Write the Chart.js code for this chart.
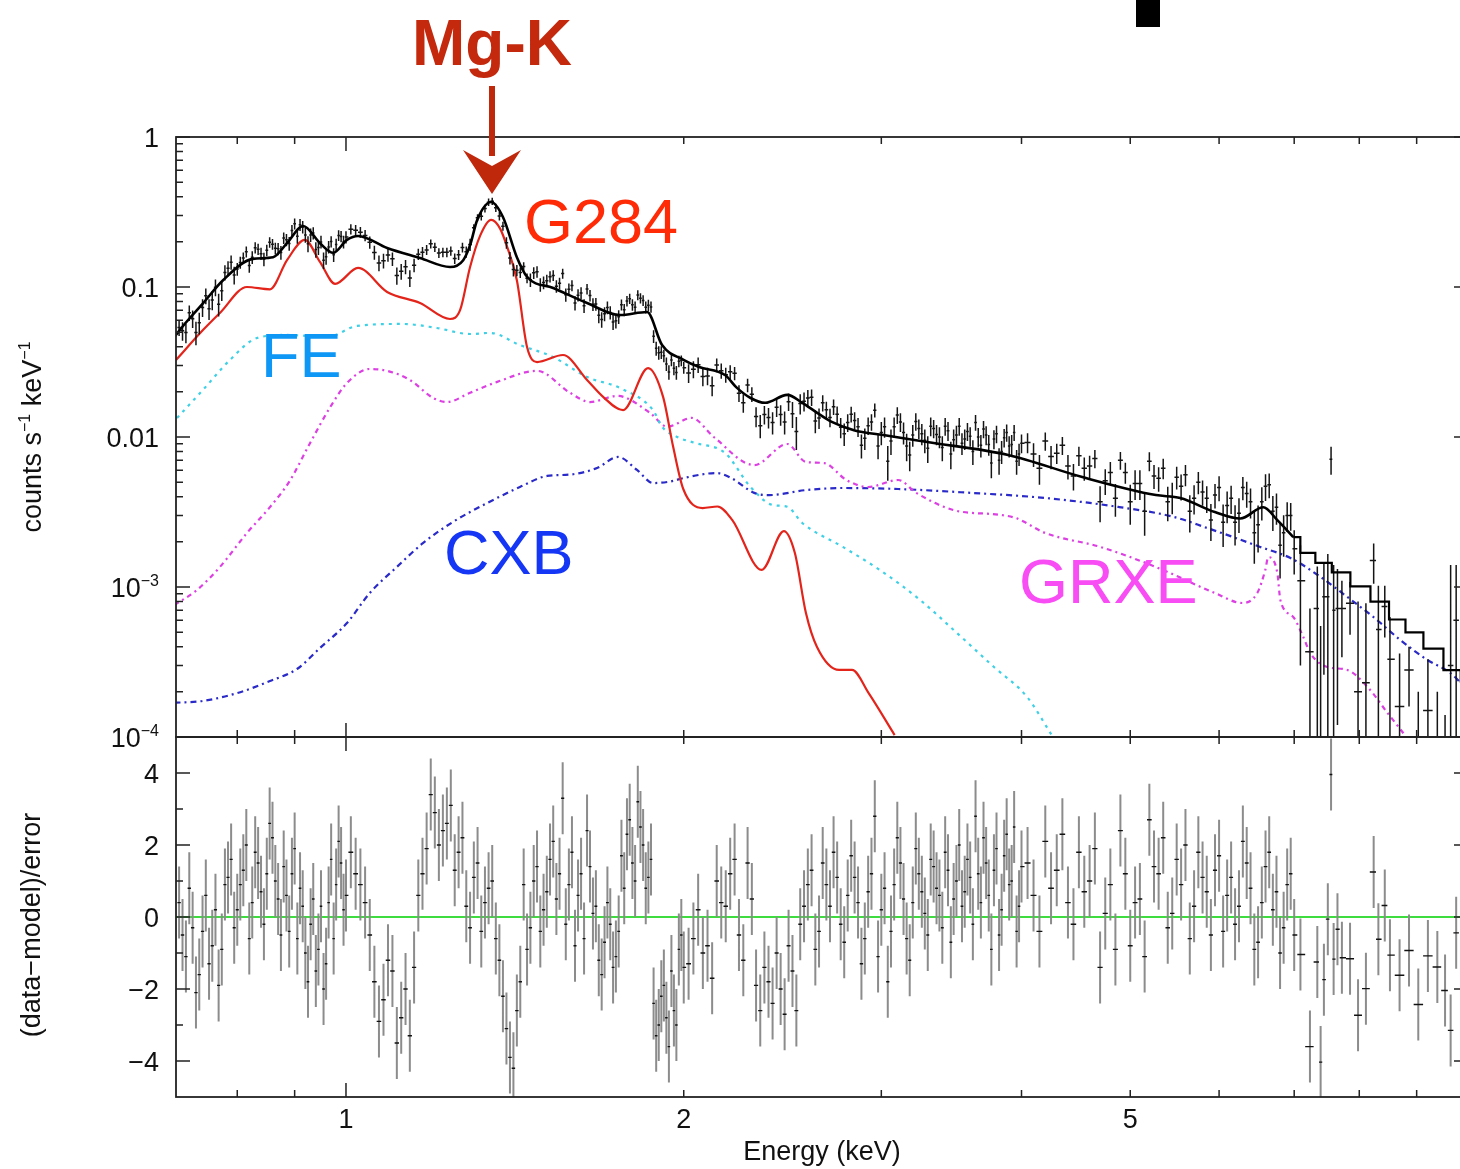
<!DOCTYPE html>
<html>
<head>
<meta charset="utf-8">
<script src="https://cdn.jsdelivr.net/npm/chart.js@4.4.1/dist/chart.umd.min.js"></script>
<style>
  html, body { margin: 0; padding: 0; background: #fff; width: 1460px; height: 1169px; overflow: hidden; }
  canvas { position: absolute; left: 0; top: 0; }
  #blk { position: absolute; left: 1136px; top: 0; width: 24px; height: 27px; background: #000; }
</style>
</head>
<body>
<canvas id="spec" width="1480" height="1169"></canvas>
<canvas id="resid" width="1480" height="1169"></canvas>
<div id="blk"></div>
<script>
// binned spectrum (keV, counts/s/keV) + residuals in sigma, first set of bins
const energy = [
  0.71,0.72,0.73,0.74,0.75,0.76,0.77,0.78,0.79,0.80,0.81,0.82,0.83,0.84,0.85,0.86,0.87,0.88,0.89,0.90,
  0.91,0.92,0.93,0.94,0.95,0.96,0.97,0.98,0.99,1.00,
  1.02,1.04,1.06,1.08,1.10,1.12,1.14,1.16,1.18,1.20,1.22,1.24,1.26,1.28,1.30,1.32,1.34,1.36,1.38,1.40,
  1.42,1.44,1.46,1.48,1.50,1.52,1.54,1.56,1.58,1.60,1.62,1.64,1.66,1.68,1.70,1.72,1.74,1.76,1.78,1.80,
  1.82,1.84,1.86,1.88,1.90,1.92,1.94,1.96,1.98,2.00,
  2.04,2.08,2.12,2.16,2.20,2.24,2.28,2.32,2.36,2.40,2.44,2.48,2.52,2.56,2.60,2.64,2.68,2.72,2.76,2.80,
  2.84,2.88,2.92,2.96,3.00,3.04,3.08,3.12,3.16,3.20,3.24,3.28,3.32,3.36,3.40,3.44,3.48,3.52,3.56,3.60,
  3.64,3.68,3.72,3.76,3.80,3.84,3.88,3.92,3.96,4.00,
  4.1,4.2,4.3,4.4,4.5,4.6,4.7,4.8,4.9,5.0,5.1,5.2,5.3,5.4,5.5,5.6,5.7,5.8,5.9,6.0,
  6.1,6.2,6.3,6.4,6.5,6.6,6.7,6.8,6.9,7.0,
  7.09,7.23,7.34,7.39,7.44,7.50,7.55,7.59,7.65,7.72,7.85,7.98,8.11,8.24,8.32,8.43,8.52,8.69,8.86,9.03,
  9.21,9.39,9.54,9.65,9.76
];
const rate = [
  .0537,.0497,.0615,.0578,.0873,.0820,.0768,.1251,.1462,.1316,.1559,.1391,.1829,.1669,.1758,.1928,.1796,.2120,.1949,.2642,
  .2603,.2223,.2225,.1777,.1998,.1592,.2007,.1918,.2174,.2152,
  .2393,.2207,.1701,.1499,.1540,.1272,.1146,.1655,.1768,.1841,.1702,.1739,.1638,.1715,.2484,.2957,.3678,.3374,.2543,.1563,
  .1292,.1371,.1116,.1265,.1071,.1172,.1013,.1230,.0967,.0781,.0913,.0970,.0767,.0647,.0662,.0676,.0595,.0761,.0806,.0761,
  .0884,.0814,.0755,.0469,.0365,.0348,.0271,.0287,.0320,.0290,
  .0283,.0253,.0220,.0277,.0272,.0196,.0222,.0137,.0141,.0125,.0141,.0172,.0109,.0173,.0184,.0134,.0152,.0159,.0116,.0125,
  .0129,.0088,.0119,.0151,.0107,.0069,.0117,.0126,.0087,.0103,.0114,.0095,.0118,.0104,.0085,.0110,.0096,.0118,.0097,.0101,
  .0125,.0088,.0103,.0067,.0105,.0080,.0107,.0089,.0069,.0091,
  .0077,.0094,.0078,.0064,.0075,.0064,.0037,.0058,.0070,.0037,.0049,.0069,.0053,.0037,.0054,.0056,.0039,.0043,.0028,.0046,
  .0035,.0027,.0046,.0037,.0026,.0047,.0032,.0019,.0030,.0018,
  .0011,.00037,.00072,.00005,.00086,.00086,.0071,.0007,.00072,.00072,.00078,.0002,.00023,.0015,.00052,.00074,.00033,.00016,.00028,.00005,
  .00015,.00005,.00002,.0003,.0006
];
const rateErr = [
  .0066,.0075,.0083,.0095,.0105,.0119,.0133,.0146,.0157,.0129,.0138,.0148,.0155,.0156,.0157,.0158,.0171,.0186,.0203,.0222,
  .0241,.0247,.0227,.0209,.0194,.0183,.0173,.0176,.0189,.0203,
  .0194,.0192,.0183,.0170,.0160,.0153,.0147,.0141,.0136,.0131,.0126,.0122,.0127,.0150,.0140,.0182,.0211,.0210,.0176,.0151,
  .0111,.0090,.0115,.0111,.0105,.0101,.0097,.0093,.0089,.0085,.0082,.0078,.0076,.0074,.0071,.0069,.0067,.0065,.0066,.0066,
  .0067,.0068,.0068,.0046,.0038,.0033,.0030,.0029,.0028,.0026,
  .0037,.0035,.0033,.0032,.0029,.0025,.0023,.0021,.0020,.0021,.0022,.0023,.0027,.0025,.0023,.0021,.0020,.0019,.0018,.0017,
  .0017,.0016,.0016,.0016,.0019,.0018,.0018,.0018,.0018,.0017,.0017,.0017,.0017,.0016,.0016,.0016,.0016,.0016,.0015,.0015,
  .0015,.0015,.0015,.0014,.0014,.0014,.0014,.0014,.0013,.0013,
  .0014,.0013,.0012,.0012,.0011,.0011,.0010,.0010,.00094,.0011,.0011,.0010,.00098,.00096,.00094,.00091,.00086,.00082,.00077,.00087,
  .00084,.00081,.00081,.00084,.00090,.00095,.00084,.00076,.00067,.00059,
  .0008,.00035,.00065,.0005,.0006,.0008,.0015,.0007,.0006,.00038,.0003,.0006,.00055,.00045,.0005,.00028,.0003,.0002,.00012,.00015,
  .00018,.00015,.00012,.0011,.0008
];
const resid = [
  0.4,-1.1,-0.3,-1.6,0.6,-0.8,-1.9,0.9,1.6,0.2,1.3,-0.6,1.8,0.7,1.2,2.2,0.5,1.4,-0.4,1.9,
  0.8,-1.0,-0.2,-1.5,0.3,-1.3,1.6,0.9,1.5,0.6,
  1.2,0.4,-1.8,-2.3,-1.5,-2.8,-3.3,0.6,1.9,2.9,2.4,3.1,1.8,0.3,1.1,-0.4,0.8,-0.6,-2.2,-3.9,
  -2.6,0.9,-0.3,1.4,0.2,1.6,0.5,3.3,0.9,-0.8,1.2,2.4,0.1,-1.2,-0.7,-0.2,-1.1,1.7,2.3,1.5,
  3.2,2.0,1.1,-2.4,-3.0,-1.9,-3.6,-2.6,-0.9,-1.4,
  -0.6,-1.0,-1.7,0.4,1.2,-0.5,1.5,-1.9,-1.4,-2.4,-2.0,-0.8,-2.6,0.3,1.3,-0.4,0.9,1.8,-0.2,0.6,
  1.1,-1.3,0.7,2.8,0.2,-1.8,0.9,1.5,-0.6,0.4,1.2,0.1,1.6,0.8,-0.3,1.3,0.5,2.0,0.7,1.1,
  2.8,0.4,1.5,-0.9,1.9,0.2,2.3,1.0,-0.4,1.4,
  0.6,2.1,1.3,0.4,1.8,1.0,-1.4,0.9,2.4,-0.8,0.5,2.7,1.2,-0.3,1.6,2.0,0.3,1.1,-0.5,1.7,
  0.6,-0.2,2.1,0.8,-0.7,1.4,0.2,-1.0,0.9,-0.5,
  -1.04,-3.6,-1.25,-4.03,-1.74,-0.06,3.96,-1.17,-0.34,-1.13,-1.16,-2.73,-1.99,1.25,-0.62,0.32,-1.06,-1.62,-0.93,-2.43,
  -1.08,-1.39,-2.04,-3.15,-0.44
];

// second, interleaved set of bins
const energy2 = [
  0.715,0.725,0.735,0.745,0.755,0.765,0.775,0.785,0.795,0.805,0.815,0.825,0.835,0.845,0.855,0.865,0.875,0.885,0.895,0.905,
  0.915,0.925,0.935,0.945,0.955,0.965,0.975,0.985,0.995,
  1.01,1.03,1.05,1.07,1.09,1.11,1.13,1.15,1.17,1.19,1.21,1.23,1.25,1.27,1.29,1.31,1.33,1.35,1.37,1.39,
  1.41,1.43,1.45,1.47,1.49,1.51,1.53,1.55,1.57,1.59,1.61,1.63,1.65,1.67,1.69,1.71,1.73,1.75,1.77,1.79,
  1.81,1.83,1.85,1.87,1.89,1.91,1.93,1.95,1.97,1.99,
  2.02,2.06,2.10,2.14,2.18,2.22,2.26,2.30,2.34,2.38,2.42,2.46,2.50,2.54,2.58,2.62,2.66,2.70,2.74,2.78,
  2.82,2.86,2.90,2.94,2.98,3.02,3.06,3.10,3.14,3.18,3.22,3.26,3.30,3.34,3.38,3.42,3.46,3.50,3.54,3.58,
  3.62,3.66,3.70,3.74,3.78,3.82,3.86,3.90,3.94,3.98,
  4.05,4.15,4.25,4.35,4.45,4.55,4.65,4.75,4.85,4.95,5.05,5.15,5.25,5.35,5.45,5.55,5.65,5.75,5.85,5.95,
  6.05,6.15,6.25,6.35,6.45,6.55,6.65,6.75,6.85,6.95
];
const rate2 = [
  .0510,.0673,.0498,.0730,.0715,.0995,.0945,.1332,.1201,.1455,.1716,.1576,.1788,.1534,.1985,.1810,.1696,.2062,.2380,.2176,
  .2513,.1943,.2289,.1834,.1508,.1851,.1640,.2208,.1999,
  .2429,.2319,.1986,.1448,.1637,.1192,.1365,.1398,.1706,.1939,.1687,.1703,.1547,.1833,.1917,.2899,.3338,.3731,.2970,.1973,
  .1306,.1250,.1143,.1243,.1037,.1102,.1194,.1058,.0888,.1024,.0882,.0750,.0878,.0769,.0607,.0729,.0584,.0633,.0704,.0836,
  .0733,.0843,.0733,.0737,.0390,.0367,.0307,.0326,.0269,.0323,
  .0267,.0303,.0255,.0302,.0260,.0266,.0169,.0193,.0119,.0135,.0158,.0126,.0143,.0167,.0182,.0128,.0169,.0135,.0142,.0105,
  .0142,.0117,.0098,.0126,.0087,.0117,.0094,.0140,.0107,.0076,.0127,.0105,.0084,.0114,.0100,.0118,.0077,.0103,.0091,.0109,
  .0080,.0100,.0113,.0089,.0097,.0070,.0099,.0087,.0107,.0077,
  .0092,.0062,.0074,.0088,.0055,.0062,.0072,.0051,.0039,.0058,.0049,.0032,.0055,.0062,.0040,.0047,.0032,.0050,.0039,.0041,
  .0027,.0039,.0031,.0042,.0023,.0037,.0048,.0034,.0023,.0030
];
const rateErr2 = [
  .0071,.0079,.0089,.0100,.0112,.0126,.0139,.0151,.0163,.0134,.0143,.0152,.0156,.0157,.0158,.0165,.0179,.0195,.0213,.0232,
  .0244,.0237,.0218,.0202,.0189,.0178,.0175,.0183,.0196,
  .0188,.0193,.0187,.0176,.0165,.0157,.0150,.0144,.0139,.0134,.0129,.0124,.0125,.0138,.0177,.0160,.0196,.0211,.0192,.0176,
  .0130,.0100,.0085,.0113,.0108,.0103,.0099,.0095,.0091,.0087,.0083,.0080,.0077,.0075,.0072,.0070,.0068,.0066,.0065,.0066,
  .0067,.0067,.0068,.0064,.0042,.0036,.0032,.0030,.0028,.0027,
  .0038,.0036,.0034,.0032,.0030,.0027,.0024,.0022,.0021,.0021,.0022,.0022,.0028,.0026,.0024,.0022,.0021,.0019,.0018,.0018,
  .0017,.0017,.0016,.0016,.0016,.0018,.0018,.0018,.0018,.0017,.0017,.0017,.0017,.0016,.0016,.0016,.0016,.0016,.0015,.0015,
  .0015,.0015,.0015,.0014,.0014,.0014,.0014,.0014,.0013,.0013,
  .0014,.0014,.0013,.0012,.0011,.0011,.0010,.0010,.00096,.00093,.0011,.0010,.0010,.00097,.00095,.00092,.00089,.00084,.00079,.00076,
  .00085,.00083,.00081,.00083,.00087,.00092,.0009,.0008,.00071,.00063
];
const resid2 = [
  -0.5,0.8,-2.1,-0.4,-1.3,0.2,-0.9,1.1,-0.3,0.9,2.0,0.4,1.5,-0.2,2.6,1.0,-0.5,0.6,1.2,-0.6,
  0.3,-1.8,0.5,-0.9,-2.0,0.4,-0.6,2.1,0.2,
  1.8,0.9,-0.5,-2.9,-1.2,-3.5,-2.0,-1.4,1.2,3.4,2.0,2.6,1.3,2.2,-0.3,1.5,0.4,1.0,-1.2,-3.1,
  -4.2,-1.8,-0.9,1.0,-0.4,0.7,2.1,1.2,-0.2,1.8,0.6,-0.6,1.4,0.3,-1.6,0.4,-1.4,-0.4,0.8,2.7,
  1.0,2.5,0.8,1.6,-3.3,-2.2,-2.8,-1.5,-3.0,-0.5,
  -1.3,0.2,-0.8,1.0,0.3,1.6,-1.2,0.5,-2.6,-1.8,-1.0,-2.7,-1.5,-0.2,0.9,-0.9,1.5,0.3,1.1,-0.7,
  1.7,0.4,-0.6,1.2,-1.1,0.8,-0.4,2.2,0.5,-1.2,1.9,0.7,-0.5,1.4,0.6,1.8,-0.7,1.0,0.3,1.6,
  -0.2,1.2,2.2,0.6,1.3,-0.5,1.7,0.9,2.5,0.3,
  1.5,-0.4,0.8,2.3,-0.2,0.7,1.9,0.1,-0.9,1.2,0.4,-1.1,1.4,2.2,0.1,0.9,-0.6,1.8,0.7,1.3,
  -0.4,1.1,0.3,1.5,-0.9,0.4,1.8,0.7,-0.3,1.2
];

// total model
const modelE = [0.703,0.72,0.746,0.777,0.826,0.861,0.886,0.916,0.948,0.974,1.002,1.025,1.088,1.164,1.238,1.272,1.290,1.309,1.347,1.380,
  1.420,1.450,1.530,1.640,1.755,1.855,1.913,2.001,2.064,2.177,2.227,2.294,2.364,2.473,2.551,2.630,2.710,2.836,3.012,3.296,
  3.892,4.531,5.270,5.540,5.948,6.268,6.570,6.762,6.987];
const modelY = [0.0464,0.058,0.0782,0.111,0.154,0.158,0.196,0.255,0.196,0.169,0.206,0.219,0.182,0.156,0.136,0.151,0.19,0.28,0.369,0.293,
  0.158,0.117,0.0985,0.0782,0.065,0.0681,0.041,0.0326,0.0293,0.0259,0.0215,0.0182,0.0169,0.0191,0.0169,0.0145,0.0126,0.0111,0.0103,0.00926,
  0.00759,0.00541,0.0041,0.00392,0.00316,0.00286,0.0034,0.00279,0.00215];
const modelTailE = [6.987,7.192,7.431,7.695,8.019,8.356,8.654,8.940,9.315,9.706,10.0];
const modelTailY = [0.00215,0.00169,0.00145,0.00125,0.00101,0.000798,0.000607,0.000499,0.000388,0.000279,0.000235];

// components
const g284E = [0.7055,0.7456,0.772,0.816,0.8555,0.886,0.919,0.948,0.978,1.025,1.088,1.164,1.238,1.264,1.290,1.317,1.347,1.372,1.392,1.420,
  1.450,1.480,1.561,1.640,1.695,1.766,1.859,1.917,1.957,1.998,2.079,2.143,2.209,2.347,2.456,2.512,2.570,2.629,2.751,2.825,2.923,3.083];
const g284Y = [0.0326,0.0516,0.0671,0.1,0.0965,0.151,0.206,0.147,0.105,0.134,0.0927,0.0782,0.0612,0.0703,0.136,0.22,0.280,0.245,0.185,0.111,
  0.0398,0.0316,0.0352,0.024,0.0185,0.0151,0.0288,0.0185,0.0086,0.0045,0.00336,0.00344,0.0028,0.0013,0.00236,0.00169,0.000671,0.000398,0.00028,0.00028,0.000196,0.000103];

const feE = [0.707,0.7456,0.788,0.833,0.886,0.962,1.023,1.124,1.205,1.290,1.344,1.429,1.530,1.640,1.755,1.878,1.913,1.973,2.048,2.177,
  2.294,2.401,2.473,2.551,2.772,2.990,3.249,3.504,3.780,4.046,4.266];
const feY = [0.0134,0.0206,0.0326,0.0457,0.0479,0.0464,0.055,0.0567,0.0533,0.0486,0.0494,0.041,0.0341,0.0251,0.0212,0.0151,0.0117,0.010,0.00912,0.00782,
  0.00464,0.00352,0.00343,0.00267,0.00185,0.0013,0.000819,0.000493,0.000293,0.000185,0.0001];

const grxeE = [0.7033,0.7365,0.772,0.816,0.8555,0.891,0.929,0.968,1.002,1.050,1.088,1.140,1.196,1.230,1.290,1.364,1.480,1.584,1.650,1.745,
  1.866,1.933,2.033,2.127,2.311,2.473,2.570,2.668,2.792,2.920,3.105,3.223,3.477,3.837,3.955,4.201,4.702,5.270,5.948,6.294,
  6.489,6.597,6.637,6.762,6.804,6.987,7.132,7.235,7.491,7.806,8.135,8.476,8.759];
const grxeY = [0.000759,0.000955,0.00136,0.00229,0.00341,0.0051,0.00912,0.0158,0.0229,0.0284,0.0276,0.024,0.0182,0.0171,0.0197,0.0233,0.0276,0.0197,0.0171,0.0188,
  0.0145,0.0117,0.0134,0.01,0.0065,0.00898,0.00681,0.0067,0.00517,0.00464,0.00517,0.00424,0.00326,0.00302,0.00288,0.00229,0.00185,0.00136,0.000912,0.000782,
  0.000912,0.0013,0.00158,0.00124,0.000819,0.000631,0.000464,0.000363,0.000293,0.00028,0.000216,0.000145,0.000106];

const cxbE = [0.7033,0.7456,0.7995,0.8555,0.9044,0.948,1.002,1.050,1.110,1.171,1.245,1.336,1.429,1.511,1.584,1.674,1.748,1.817,1.878,1.945,
  2.001,2.138,2.205,2.311,2.384,2.572,2.772,3.105,3.612,4.201,4.889,5.471,5.858,6.178,6.528,6.947,7.385,7.806,8.235,8.705,
  9.201,9.645,10.0];
const cxbY = [0.000169,0.000174,0.000196,0.000236,0.000284,0.000392,0.000575,0.000912,0.00136,0.00196,0.00271,0.00363,0.00464,0.0055,0.00562,0.00621,0.00736,0.00603,0.00493,0.00505,
  0.00533,0.00575,0.00533,0.00424,0.0041,0.00443,0.00457,0.0045,0.00424,0.00392,0.00341,0.00293,0.00247,0.00215,0.00185,0.00156,0.00117,0.000858,0.000631,0.000443,
  0.000326,0.000267,0.000204];

// axes
const X_MIN = 0.7055, X_MAX = 10;
const xMajorTicks = [1, 10];
const xMinorTicks = [0.8, 0.9, 2, 3, 4, 5, 6, 7, 8, 9];
const xTickLabels = [1, 2, 5];
const specTicks = [1, 0.1, 0.01, 0.001, 0.0001];
const specTickText = [[['1']], [['0.1']], [['0.01']], [['10'], ['\u22123', 1]], [['10'], ['\u22124', 1]]];
const residMajor = [-4, -2, 0, 2, 4];
const residMinor = [-3, -1, 1, 3];
const residTickText = ['\u22124', '\u22122', '0', '2', '4'];

const FONT = '"Liberation Sans", Arial, Helvetica, sans-serif';

function richText(ctx, parts, x, y, size, align) {
  const supSize = Math.round(size * 0.6);
  const ws = parts.map(p => {
    ctx.font = (p[1] ? supSize : size) + 'px ' + FONT;
    return ctx.measureText(p[0]).width;
  });
  const total = ws.reduce((a, b) => a + b, 0);
  let cx = align === 'right' ? x - total : align === 'center' ? x - total / 2 : x;
  ctx.textAlign = 'left';
  ctx.textBaseline = 'alphabetic';
  parts.forEach((p, i) => {
    ctx.font = (p[1] ? supSize : size) + 'px ' + FONT;
    ctx.fillText(p[0], cx, p[1] ? y - size * 0.38 : y);
    cx += ws[i];
  });
}

function logMinors() {
  const out = [];
  for (let d = -4; d < 0; d++) for (let m = 2; m <= 9; m++) out.push(m * Math.pow(10, d));
  return out;
}

function drawFrame(chart, yMajor, yMinor) {
  const { ctx, chartArea: a, scales: { x, y } } = chart;
  ctx.save();
  ctx.strokeStyle = '#222';
  ctx.lineWidth = 1.8;
  ctx.strokeRect(a.left, a.top, a.right - a.left, a.bottom - a.top);
  ctx.lineWidth = 1.5;
  ctx.beginPath();
  const vt = (v, len) => {
    const px = x.getPixelForValue(v);
    ctx.moveTo(px, a.bottom); ctx.lineTo(px, a.bottom - len);
    ctx.moveTo(px, a.top); ctx.lineTo(px, a.top + len);
  };
  const ht = (v, len) => {
    const py = y.getPixelForValue(v);
    ctx.moveTo(a.left, py); ctx.lineTo(a.left + len, py);
    ctx.moveTo(a.right, py); ctx.lineTo(a.right - len, py);
  };
  xMajorTicks.forEach(v => vt(v, 14));
  xMinorTicks.forEach(v => vt(v, 7));
  yMajor.forEach(v => ht(v, 14));
  yMinor.forEach(v => ht(v, 7));
  ctx.stroke();
  ctx.restore();
}

function yTitle(ctx, parts, cx, cy, size) {
  ctx.save();
  ctx.translate(cx, cy);
  ctx.rotate(-Math.PI / 2);
  ctx.fillStyle = '#111';
  richText(ctx, parts, 0, size * 0.36, size, 'center');
  ctx.restore();
}

const specFrame = {
  id: 'specFrame',
  afterDraw(chart) {
    const { ctx, scales: { y } } = chart;
    drawFrame(chart, specTicks, logMinors());
    ctx.save();
    ctx.fillStyle = '#111';
    specTicks.forEach((v, i) => {
      richText(ctx, specTickText[i], 159, y.getPixelForValue(v) + 27 * 0.36, 27, 'right');
    });
    yTitle(ctx, [['counts s'], ['\u22121', 1], [' keV'], ['\u22121', 1]], 31, 437, 27);

    // annotations
    ctx.textBaseline = 'alphabetic';
    ctx.fillStyle = '#c4290e';
    ctx.font = 'bold 64px ' + FONT;
    ctx.textAlign = 'center';
    ctx.fillText('Mg-K', 492, 65);
    ctx.fillStyle = '#c0280c';
    ctx.fillRect(489, 86, 6, 70);
    ctx.beginPath();
    ctx.moveTo(492, 194);
    ctx.lineTo(463, 150);
    ctx.lineTo(492, 166);
    ctx.lineTo(521, 150);
    ctx.closePath();
    ctx.fill();

    ctx.font = '63px ' + FONT;
    ctx.textAlign = 'left';
    ctx.fillStyle = '#ff2b06';
    ctx.fillText('G284', 524, 243);
    ctx.fillStyle = '#0f97f5';
    ctx.fillText('FE', 261, 377);
    ctx.fillStyle = '#1537f5';
    ctx.fillText('CXB', 444, 574);
    ctx.fillStyle = '#f84cf4';
    ctx.fillText('GRXE', 1019, 603);
    ctx.restore();
  }
};

const residFrame = {
  id: 'residFrame',
  beforeDatasetsDraw(chart) {
    const { ctx, chartArea: a, scales: { y } } = chart;
    ctx.save();
    ctx.strokeStyle = '#3fdc3f';
    ctx.lineWidth = 2;
    ctx.beginPath();
    ctx.moveTo(a.left, y.getPixelForValue(0));
    ctx.lineTo(a.right, y.getPixelForValue(0));
    ctx.stroke();
    ctx.restore();
  },
  afterDraw(chart) {
    const { ctx, chartArea: a, scales: { x, y } } = chart;
    drawFrame(chart, residMajor, residMinor);
    ctx.save();
    ctx.fillStyle = '#111';
    residMajor.forEach((v, i) => {
      richText(ctx, [[residTickText[i]]], 159, y.getPixelForValue(v) + 27 * 0.36, 27, 'right');
    });
    xTickLabels.forEach(v => {
      richText(ctx, [[String(v)]], x.getPixelForValue(v), 1128, 27, 'center');
    });
    richText(ctx, [['Energy (keV)']], (a.left + a.right) / 2, 1160, 27, 'center');
    yTitle(ctx, [['(data\u2212model)/error']], 30, 925, 27);
    ctx.restore();
  }
};

// merge both bin sets in energy order
const bins = energy.map((e, i) => [e, rate[i], rateErr[i], resid[i]])
  .concat(energy2.map((e, i) => [e, rate2[i], rateErr2[i], resid2[i]]))
  .sort((p, q) => p[0] - q[0]);

// bin edges from neighbouring centres (geometric midpoints)
function edges(i) {
  const e = bins[i][0];
  const lo = i > 0 ? Math.sqrt(bins[i - 1][0] * e) : e * e / Math.sqrt(e * bins[i + 1][0]);
  const hi = i < bins.length - 1 ? Math.sqrt(e * bins[i + 1][0]) : e * e / Math.sqrt(bins[i - 1][0] * e);
  return [lo, hi];
}

const pts = (xs, ys) => xs.map((x, i) => ({ x, y: ys[i] }));

const rateV = [], rateH = [], resV = [], resH = [];
bins.forEach(([e, r, dr, res], i) => {
  const [lo, hi] = edges(i);
  rateV.push({ x: e, y: Math.max(r - dr, 1e-6) }, { x: e, y: r + dr }, { x: e, y: null });
  rateH.push({ x: lo, y: r }, { x: hi, y: r }, { x: e, y: null });
  resV.push({ x: e, y: res - 1 }, { x: e, y: res + 1 }, { x: e, y: null });
  resH.push({ x: lo, y: res }, { x: hi, y: res }, { x: e, y: null });
});

const line = (data, color, width, extra) => Object.assign({
  data, showLine: true, borderColor: color, borderWidth: width,
  pointRadius: 0, spanGaps: false, fill: false
}, extra || {});

function baseOptions(padding, yScale) {
  return {
    responsive: false,
    animation: false,
    devicePixelRatio: 1,
    events: [],
    layout: { padding },
    plugins: { legend: { display: false }, tooltip: { enabled: false } },
    scales: {
      x: { type: 'logarithmic', min: X_MIN, max: X_MAX, bounds: 'data', display: false },
      y: yScale
    }
  };
}

new Chart(document.getElementById('spec'), {
  type: 'scatter',
  data: {
    datasets: [
      line(pts(modelE, modelY), '#000', 2.6, { cubicInterpolationMode: 'monotone' }),
      line(pts(modelTailE, modelTailY), '#000', 2.2, { stepped: 'middle' }),
      line(rateV, '#151515', 1.5),
      line(rateH, '#151515', 1.5),
      line(pts(g284E, g284Y), '#e3241b', 2.2, { cubicInterpolationMode: 'monotone' }),
      line(pts(feE, feY), '#3fd0e6', 2.2, { cubicInterpolationMode: 'monotone', borderDash: [3, 5] }),
      line(pts(grxeE, grxeY), '#dc3fe2', 2.2, { cubicInterpolationMode: 'monotone', borderDash: [5, 4, 2, 4] }),
      line(pts(cxbE, cxbY), '#2a2ac8', 2.2, { cubicInterpolationMode: 'monotone', borderDash: [6, 4, 2, 4] })
    ]
  },
  options: baseOptions({ left: 176, top: 137, right: 12, bottom: 1169 - 737 },
    { type: 'logarithmic', min: 1e-4, max: 1, bounds: 'data', display: false }),
  plugins: [specFrame]
});

new Chart(document.getElementById('resid'), {
  type: 'scatter',
  data: {
    datasets: [
      line(resH, '#111', 1.4),
      line(resV, '#8c8c8c', 2)
    ]
  },
  options: baseOptions({ left: 176, top: 737, right: 12, bottom: 1169 - 1097 },
    { type: 'linear', min: -5, max: 5, bounds: 'data', display: false }),
  plugins: [residFrame]
});
</script>
</body>
</html>
